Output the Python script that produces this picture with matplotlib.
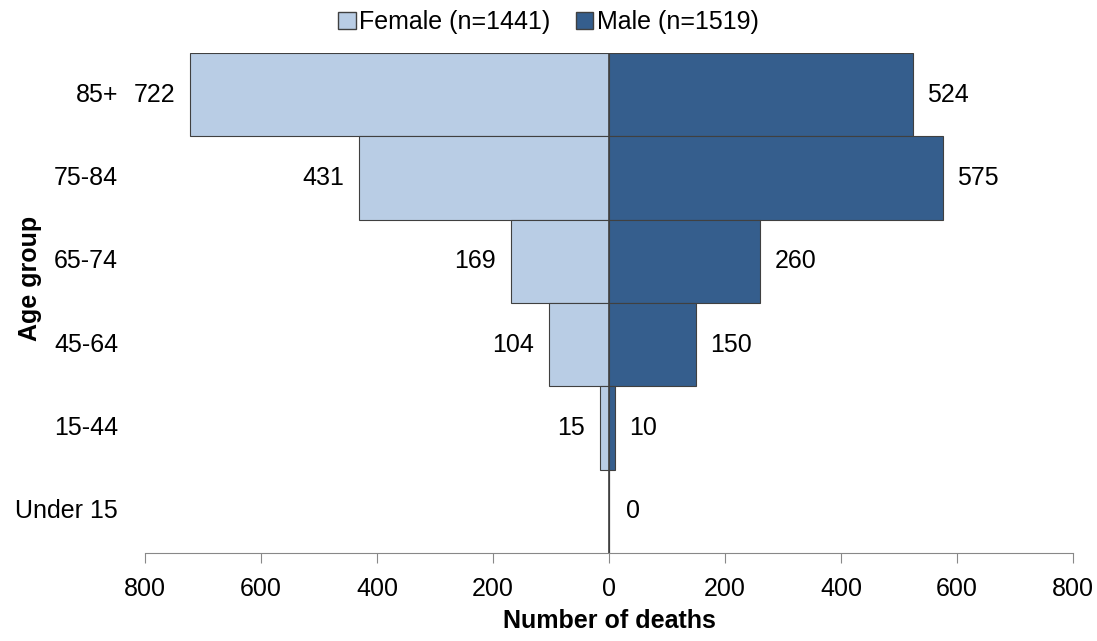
import matplotlib
matplotlib.use("Agg")
import matplotlib.pyplot as plt
from matplotlib.patches import Patch
import matplotlib.transforms as mt

plt.rcParams["font.family"] = ["Liberation Sans", "DejaVu Sans"]

groups = ["85+", "75-84", "65-74", "45-64", "15-44", "Under 15"]
female = [722, 431, 169, 104, 15, 0]
male = [524, 575, 260, 150, 10, 0]
ticks = [-800, -600, -400, -200, 0, 200, 400, 600, 800]
ticklabels = ["800", "600", "400", "200", "0", "200", "400", "600", "800"]

FS = 18
fc, mc = "#b9cde5", "#355e8d"
fig = plt.figure(figsize=(10.97, 6.41), dpi=100)
ax = fig.add_axes([145/1097, 88/641, 928/1097, 500/641])
ypos = list(range(len(groups)))
ax.barh(ypos, [-f for f in female], height=1.0, color=fc, edgecolor="#404040", linewidth=0.8)
ax.barh(ypos, male, height=1.0, color=mc, edgecolor="#404040", linewidth=0.8)
ax.set_xlim(-800, 800)
ax.set_ylim(len(groups) - 0.5, -0.5)
ax.axvline(0, color="#404040", linewidth=1.2)
for s in ["top", "right", "left"]:
    ax.spines[s].set_visible(False)
ax.spines["bottom"].set_color("#888888")
ax.set_xticks(ticks)
ax.set_xticklabels(ticklabels, fontsize=FS)
ax.tick_params(axis="x", direction="out", length=7, color="#888888", pad=10)
ax.set_yticks([])
tr = mt.blended_transform_factory(ax.transAxes, ax.transData)
for i, g in enumerate(groups):
    ax.text(-0.029, i, g, transform=tr, ha="right", va="center", fontsize=FS)
    if female[i] > 0:
        ax.text(-female[i] - 26, i, str(female[i]), ha="right", va="center", fontsize=FS)
    ax.text(male[i] + 25 if male[i] > 0 else 30, i, str(male[i]), ha="left", va="center", fontsize=FS)
ax.set_xlabel("Number of deaths", fontsize=FS, fontweight="bold", labelpad=6)
fig.text(30/1097, 1 - 278/641, "Age group", rotation=90, ha="center", va="center", fontsize=FS, fontweight="bold")
handles = [Patch(facecolor=fc, edgecolor="#404040", label="Female (n=1441)"),
           Patch(facecolor=mc, edgecolor="#404040", label="Male (n=1519)")]
fig.legend(handles=handles, loc="center", bbox_to_anchor=(0.5, 1 - 22/641), ncol=2, frameon=False,
           fontsize=FS, handlelength=0.7, handleheight=0.7, handletextpad=0.15, columnspacing=1.0)
fig.savefig("out.png", dpi=100)
